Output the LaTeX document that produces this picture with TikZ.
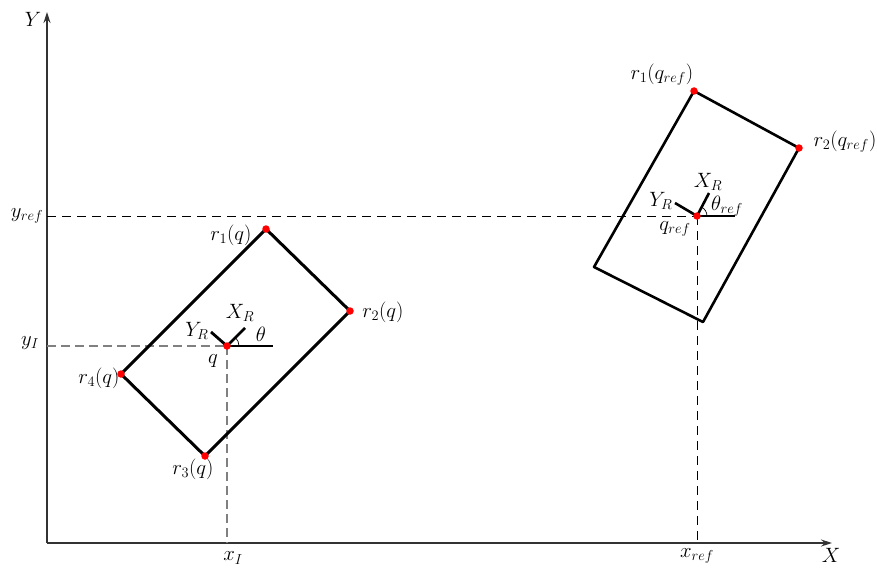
\documentclass[tikz,border=0pt]{standalone}
\usetikzlibrary{arrows.meta}
\begin{document}
\begin{tikzpicture}[x=1pt,y=-1pt,
  axis/.style={line width=1.3pt,draw=black!80,-{Stealth[length=11pt,width=7pt]}},
  robot/.style={line width=3pt,line join=round},
  frame/.style={line width=2.8pt},
  dashblack/.style={dash pattern=on 9pt off 6pt,line width=0.9pt,black},
  dashgray/.style={dash pattern=on 9pt off 5pt,line width=1.3pt,gray},
  dot/.style={circle,fill=red,inner sep=0pt,minimum size=7.5pt},
  lbl/.style={font=\huge,inner sep=1pt},
  every node/.style={lbl}]
\useasboundingbox (0,0) rectangle (877,567);
% axes
\coordinate (O) at (47,543);
\coordinate (Ytip) at (47,12);
\coordinate (Xtip) at (832,543);
\draw[axis] (O) -- (Ytip);
\draw[axis] (O) -- (Xtip);
\node (Ylab) at (33,19) {$Y$};
\node (Xlab) at (831,555) {$X$};
% left robot
\coordinate (a1) at (266,229);
\coordinate (a2) at (350,311);
\coordinate (a3) at (205,456);
\coordinate (a4) at (121,374);
\coordinate (q) at (227,346);
\coordinate (yI) at (47,346);
\coordinate (xI) at (227,543);
\coordinate (qh) at (273,346);
\coordinate (qx) at (245,328);
\coordinate (qy) at (211,332);
\draw[dashgray] (yI) -- (q);
\draw[dashgray] (q) -- (xI);
\draw[robot] (a1) -- (a2) -- (a3) -- (a4) -- cycle;
\draw[line width=1.5pt] (q) -- (qh);
\draw[frame] (q) -- (qx);
\draw[frame] (q) -- (qy);
\draw[line width=0.7pt] ([xshift=12pt]q) arc[start angle=0,end angle=45,radius=12pt];
\node[dot] (d1) at (a1) {};
\node[dot] (d2) at (a2) {};
\node[dot] (d3) at (a3) {};
\node[dot] (d4) at (a4) {};
\node[dot] (dq) at (q) {};
\node (l1) at (231,235) {$r_1(q)$};
\node (l2) at (383,312) {$r_2(q)$};
\node (l3) at (193,469) {$r_3(q)$};
\node (l4) at (99,378) {$r_4(q)$};
\node (lxr) at (240,313) {$X_R$};
\node (lyr) at (197,331) {$Y_R$};
\node (lth) at (261,334) {$\theta$};
\node (lq) at (213,361) {$q$};
\node (lyI) at (30,343) {$y_I$};
\node (lxI) at (233,558) {$x_I$};
% right robot
\coordinate (b1) at (694,91);
\coordinate (b2) at (799,148);
\coordinate (b3) at (703,322);
\coordinate (b4) at (594,267);
\coordinate (c) at (697,216);
\coordinate (yr) at (47,216);
\coordinate (xr) at (697,543);
\coordinate (ch) at (735,216);
\coordinate (cx) at (709,193);
\coordinate (cy) at (675,203);
\draw[dashblack] (yr) -- (c);
\draw[dashblack] (c) -- (xr);
\draw[robot,line width=2.6pt] (b1) -- (b2) -- (b3) -- (b4) -- cycle;
\draw[line width=1.2pt] (c) -- (ch);
\draw[frame,line width=2.6pt] (c) -- (cx);
\draw[frame,line width=2.6pt] (c) -- (cy);
\draw[line width=0.7pt] ([xshift=10pt]c) arc[start angle=0,end angle=62,radius=10pt];
\node[dot] (e1) at (b1) {};
\node[dot] (e2) at (b2) {};
\node[dot] (ec) at (c) {};
\node (m1) at (662,75) {$r_1(q_{ref})$};
\node (m2) at (845,142) {$r_2(q_{ref})$};
\node (mxr) at (708,182) {$X_R$};
\node (myr) at (661,201) {$Y_R$};
\node (mth) at (727,206) {$\theta_{ref}$};
\node (mq) at (675,229) {$q_{ref}$};
\node (lyref) at (27,216) {$y_{ref}$};
\node (lxref) at (697,556) {$x_{ref}$};
\end{tikzpicture}
\end{document}
